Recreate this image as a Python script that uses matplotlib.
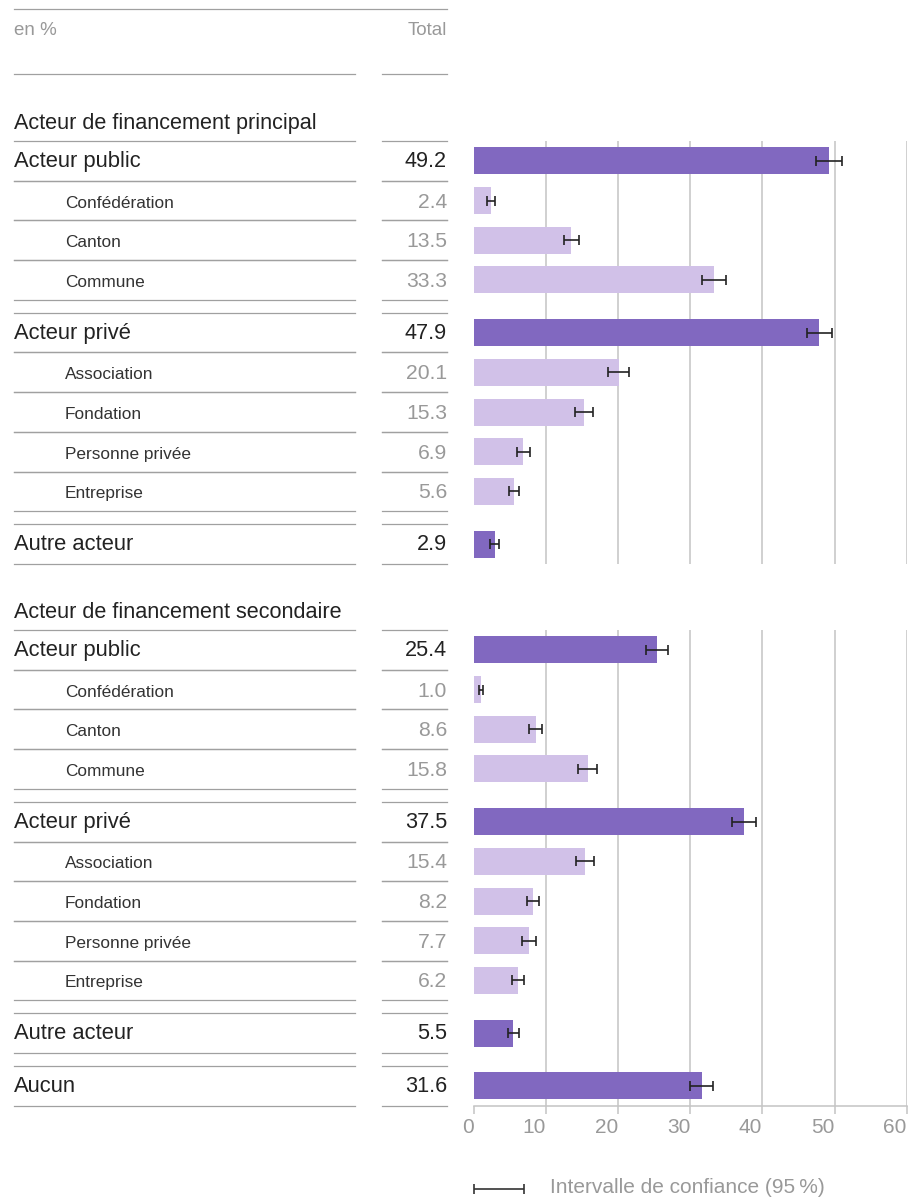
import matplotlib.pyplot as plt

plt.rcParams['font.family'] = ['Liberation Sans', 'DejaVu Sans']

# data
labels_principal = ["Acteur public", "Confédération", "Canton", "Commune",
                    "Acteur privé", "Association", "Fondation", "Personne privée",
                    "Entreprise", "Autre acteur"]
levels_principal = [0, 1, 1, 1, 0, 1, 1, 1, 1, 0]
values_principal = [49.2, 2.4, 13.5, 33.3, 47.9, 20.1, 15.3, 6.9, 5.6, 2.9]
ci_principal = [1.8, 0.5, 1.05, 1.65, 1.75, 1.45, 1.27, 0.95, 0.74, 0.6]

labels_secondary = ["Acteur public", "Confédération", "Canton", "Commune",
                    "Acteur privé", "Association", "Fondation", "Personne privée",
                    "Entreprise", "Autre acteur", "Aucun"]
levels_secondary = [0, 1, 1, 1, 0, 1, 1, 1, 1, 0, 0]
values_secondary = [25.4, 1.0, 8.6, 15.8, 37.5, 15.4, 8.2, 7.7, 6.2, 5.5, 31.6]
ci_secondary = [1.55, 0.28, 0.93, 1.35, 1.65, 1.27, 0.88, 0.97, 0.83, 0.8, 1.6]

section_titles = ["Acteur de financement principal", "Acteur de financement secondaire"]
x_ticks = [0, 10, 20, 30, 40, 50, 60]

DARK = "#8168c0"
LIGHT = "#d1c1e8"
TEXT = "#222222"
GREY = "#999999"
RULE = "#a0a0a0"
GRID = "#c4c4c4"

W, H = 910, 1197
ROW_H = 39.7
GAP = 13
BAR_H = 27
X0, X1 = 473.7, 906.7  # pixel positions of 0 and 60

fig = plt.figure(figsize=(W / 100, H / 100), dpi=100)
bg = fig.add_axes([0, 0, 1, 1])
bg.set_xlim(0, W)
bg.set_ylim(H, 0)
bg.axis("off")


def rule(y, full=False):
    if full:
        bg.plot([14, 447], [y, y], color=RULE, lw=0.9)
    else:
        bg.plot([14, 355], [y, y], color=RULE, lw=0.9)
        bg.plot([382, 447], [y, y], color=RULE, lw=0.9)


def row_layout(levels, top):
    centers, tops = [], []
    y = top
    for i, lev in enumerate(levels):
        if i > 0 and lev == 0:
            y += GAP
        tops.append(y)
        centers.append(y + ROW_H / 2)
        y += ROW_H
    return tops, centers, y


# header
rule(9, full=True)
bg.text(14, 35, "en %", color=GREY, fontsize=13.5, va="baseline")
bg.text(447, 35, "Total", color=GREY, fontsize=13.5, va="baseline", ha="right")
rule(74)

panels = [
    (labels_principal, levels_principal, values_principal, ci_principal, 141),
    (labels_secondary, levels_secondary, values_secondary, ci_secondary, 630),
]

for p, (labels, levels, values, ci, top) in enumerate(panels):
    bg.text(14, top - 12.5, section_titles[p], color=TEXT, fontsize=15.6, va="baseline")
    tops, centers, bottom = row_layout(levels, top)

    for lab, lev, val, t, c in zip(labels, levels, values, tops, centers):
        rule(t)
        rule(t + ROW_H)
        if lev == 0:
            bg.text(14, c + 6.3, lab, color=TEXT, fontsize=15.8, va="baseline")
            bg.text(447, c + 6.3, f"{val:.1f}", color=TEXT, fontsize=15.6,
                    va="baseline", ha="right")
        else:
            bg.text(65, c + 7.0, lab, color="#333333", fontsize=12.4, va="baseline")
            bg.text(447, c + 7.0, f"{val:.1f}", color=GREY, fontsize=15.2,
                    va="baseline", ha="right")

    ax = fig.add_axes([X0 / W, 1 - bottom / H, (X1 - X0) / W, (bottom - top) / H])
    ax.set_xlim(0, 60)
    ax.set_ylim(bottom, top)
    ax.patch.set_alpha(0)
    for s in ax.spines.values():
        s.set_visible(False)
    ax.vlines(x_ticks[1:], top, bottom, color=GRID, lw=1.1, zorder=0)

    colors = [DARK if lev == 0 else LIGHT for lev in levels]
    ax.barh(centers, values, height=BAR_H, color=colors, zorder=2)
    ax.errorbar(values, centers, xerr=ci, fmt="none", ecolor="#222222",
                elinewidth=1.2, capsize=3.6, capthick=1.2, zorder=3)
    ax.set_yticks([])

    if p == 1:
        ax.spines["bottom"].set_visible(True)
        ax.spines["bottom"].set_color(GRID)
        ax.spines["bottom"].set_linewidth(1.1)
        ax.set_xticks(x_ticks)
        ax.set_xticklabels([str(v) for v in x_ticks], ha="right")
        ax.tick_params(axis="x", length=6, width=1.1, color=GRID,
                       labelcolor=GREY, labelsize=15, pad=3)
    else:
        ax.set_xticks([])

# legend: confidence interval symbol
bg.errorbar([498.5], [1189], xerr=[25], fmt="none", ecolor="#333333",
            elinewidth=1.2, capsize=3.6, capthick=1.2)
bg.text(550, 1193, "Intervalle de confiance (95\u2009%)", color=GREY,
        fontsize=15, va="baseline")

fig.savefig("out.png", dpi=100)
